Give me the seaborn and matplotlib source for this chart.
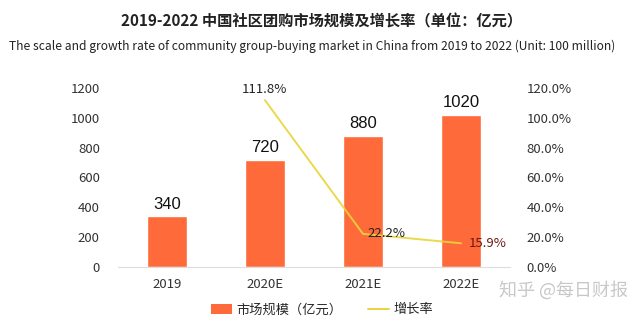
import matplotlib
matplotlib.use("Agg")
import matplotlib.pyplot as plt
import seaborn as sns
from matplotlib.patches import Patch
from matplotlib.lines import Line2D

categories = ["2019", "2020E", "2021E", "2022E"]
market_size = [340, 720, 880, 1020]
growth_categories = ["2020E", "2021E", "2022E"]
growth_rate = [111.8, 22.2, 15.9]
left_ticks = [0, 200, 400, 600, 800, 1000, 1200]
right_ticks = [0, 20, 40, 60, 80, 100, 120]

BAR = "#FF6A3A"
LINE = "#E8D53A"

sns.set_theme(style="white")
plt.rcParams['font.family'] = ['Noto Sans CJK SC', 'DejaVu Sans']

fig = plt.figure(figsize=(6.44, 3.28), dpi=100)
ax = fig.add_axes([0.183, 0.186, 0.609, 0.546])

sns.barplot(x=categories, y=market_size, color=BAR, width=0.41, ax=ax,
            saturation=1, order=categories)
ax.set_xlim(-0.5, 3.5)
ax.set_ylim(0, 1200)
ax.set_yticks(left_ticks)
ax.set_yticklabels([str(t) for t in left_ticks], fontsize=9.5, color="#333333")
ax.tick_params(axis="x", labelsize=9.5, colors="#333333", length=0, pad=8)
ax.tick_params(axis="y", length=0, pad=13)
for s in ["top", "right", "left"]:
    ax.spines[s].set_visible(False)
ax.spines["bottom"].set_color("#DDDDDD")
ax.spines["bottom"].set_linewidth(0.8)
ax.set_xlabel("")
ax.set_ylabel("")

for i, v in enumerate(market_size):
    ax.text(i, v + 30, str(v), ha="center", va="bottom", fontsize=12,
            family=["Liberation Sans", "DejaVu Sans"], color="#111111")

ax2 = ax.twinx()
xpos = [categories.index(c) for c in growth_categories]
sns.lineplot(x=xpos, y=growth_rate, color=LINE, linewidth=1.4, ax=ax2,
             alpha=0.9)
ax2.set_ylim(0, 120)
ax2.set_xlim(-0.5, 3.5)
ax2.set_yticks(right_ticks)
ax2.set_yticklabels([f"{t:.1f}%" for t in right_ticks], fontsize=9.5, color="#333333")
ax2.tick_params(axis="y", length=0, pad=12)
for s in ["top", "right", "left", "bottom"]:
    ax2.spines[s].set_visible(False)
ax2.set_ylabel("")

label_offsets = [(0.0, 3.0, "center"), (0.05, 0.0, "left"), (0.08, 0.0, "left")]
label_colors = ["#222222", "#222222", "#6B1A10"]
for (x, y), (dx, dy, ha), c in zip(zip(xpos, growth_rate), label_offsets, label_colors):
    ax2.text(x + dx, y + dy, f"{y:.1f}%", ha=ha, va="bottom" if dy > 0 else "center",
             fontsize=9.5, color=c)

fig.text(0.5, 0.935, "2019-2022 中国社区团购市场规模及增长率（单位：亿元）",
         ha="center", va="center", fontsize=11, fontweight="bold", color="#222222")
fig.text(0.485, 0.86, "The scale and growth rate of community group-buying market in China from 2019 to 2022 (Unit: 100 million)",
         ha="center", va="center", fontsize=8.7, color="#222222")

handles = [Patch(facecolor=BAR, edgecolor="none"),
           Line2D([0], [0], color=LINE, linewidth=1.4)]
fig.legend(handles, ["市场规模（亿元）", "增长率"], loc="center", bbox_to_anchor=(0.5, 0.055),
           ncol=2, frameon=False, fontsize=9.5, handlelength=1.6, handleheight=0.8,
           columnspacing=2.0, handletextpad=0.3)

fig.text(0.875, 0.115, "知乎 @每日财报", ha="center", va="center", fontsize=13,
         color="#C8C8C8")

fig.savefig("out.png", dpi=100)
